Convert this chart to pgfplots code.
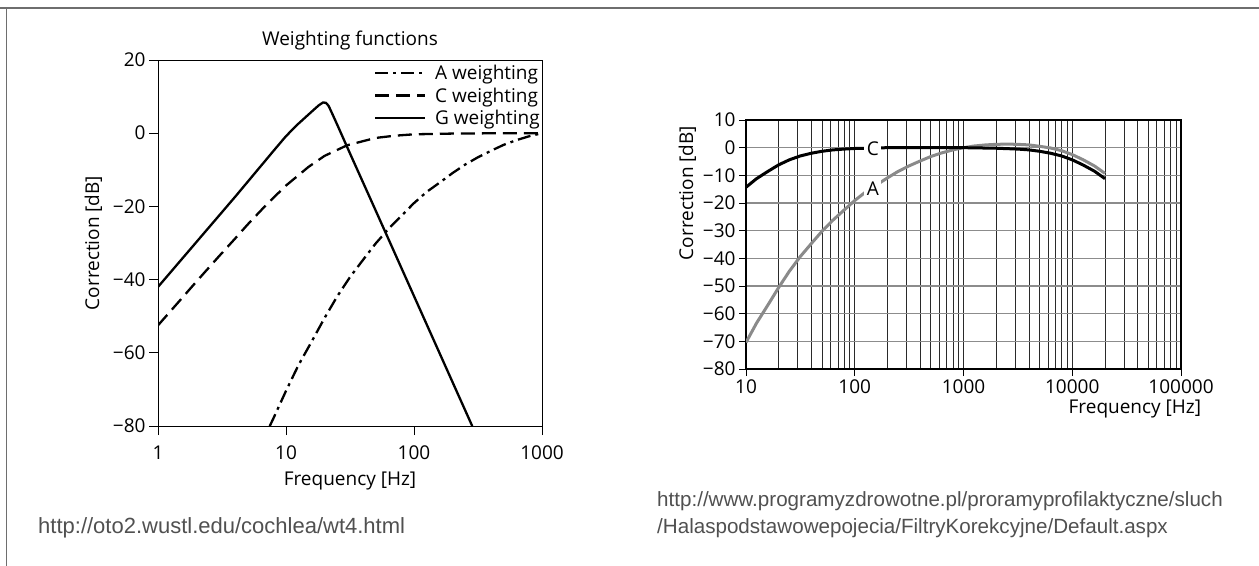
\documentclass[border=0pt]{standalone}
\usepackage{pgfplots}
\pgfplotsset{compat=1.18}
\usepackage{fontspec}
\setmainfont{Open Sans}
\newfontfamily\urlfont{Liberation Sans}
\definecolor{framegray}{HTML}{6E6E6E}
\definecolor{urlgray}{HTML}{505050}
\definecolor{agray}{HTML}{8A8A8A}
\definecolor{hgrid}{HTML}{8C8C8C}
\definecolor{vgrid}{HTML}{2A2A2A}
\newcommand{\cf}{\fontsize{19bp}{22bp}\selectfont}
\begin{document}
\begin{tikzpicture}
\useasboundingbox (0,0) rectangle (1259bp,-566bp);
\draw[framegray, line width=1.8bp] (0,-8bp) -- (1259bp,-8bp);
\draw[framegray, line width=1.6bp] (6.5bp,-8bp) -- (6.5bp,-566bp);

% ---------------- left chart ----------------
\begin{axis}[
  at={(158bp,-426bp)}, anchor=south west,
  scale only axis, width=384bp, height=366bp,
  xmode=log, xmin=1, xmax=1000, ymin=-80, ymax=20,
  xtick={1,10,100,1000}, xticklabels={1,10,100,1000}, xminorticks=false,
  ytick={-80,-60,-40,-20,0,20}, yticklabels={−80,−60,−40,−20,0,20},
  tick pos=left, tick align=outside, major tick length=9bp,
  axis line style={line width=1bp}, tick style={line width=1bp, black},
  every tick label/.append style={font=\cf},
  xticklabel style={yshift=-7bp},
  label style={font=\cf}, title style={font=\cf},
  title={Weighting functions},
  xlabel={Frequency [Hz]}, ylabel={Correction [dB]},
  xlabel style={yshift=-6bp},
  ylabel style={yshift=4bp},
  legend style={draw=none, fill=none, font=\cf, at={(1,1)}, anchor=north east,
    yshift=-3bp, inner sep=0pt, row sep=2.5bp, column sep=7bp,
    legend cell align=left},
  legend image code/.code={\draw[#1] (0bp,0bp) -- (50bp,0bp);},
]
\addplot[black, line width=2.3bp, dash pattern=on 13bp off 5bp on 3bp off 5bp] coordinates {
 (7.47,-80) (8,-77.8) (10,-70.4) (12.5,-63.4) (16,-56.7) (20,-50.5) (25,-44.7)
 (31.5,-39.4) (40,-34.6) (50,-30.2) (63,-26.2) (80,-22.5) (100,-19.1) (125,-16.1)
 (160,-13.4) (200,-10.9) (250,-8.6) (315,-6.6) (400,-4.8) (500,-3.2) (630,-1.9)
 (800,-0.8) (1000,0)};
\addlegendentry{A weighting}
\addplot[black, line width=2.3bp, dash pattern=on 14bp off 7bp] coordinates {
 (1,-52.5) (1.5,-45.5) (2,-40.5) (3,-33.6) (4,-28.8) (5,-25.0) (7,-19.6) (10,-14.3)
 (15,-9.2) (20,-6.2) (30,-3.3) (50,-1.3) (70,-0.7) (100,-0.3) (200,-0.1) (500,0) (1000,0)};
\addlegendentry{C weighting}
\addplot[black, line width=2.3bp] coordinates {
 (1,-42) (2,-29.7) (4,-17.4) (8,-4.8) (10,-0.8) (12.5,2.6) (16,6.0) (18,7.6)
 (19.5,8.4) (20.5,8.3) (21.5,7.5) (23,5.3) (25,2.5) (31.5,-5.4) (50,-21)
 (100,-44.5) (200,-68) (285,-80)};
\addlegendentry{G weighting}
\end{axis}

% ---------------- right chart ----------------
\begin{axis}[
  at={(746bp,-369bp)}, anchor=south west,
  scale only axis, width=435bp, height=249bp,
  xmode=log, xmin=10, xmax=100000, ymin=-80, ymax=10,
  xtick={10,100,1000,10000,100000}, xticklabels={10,100,1000,10000,100000},
  ytick={-80,-70,-60,-50,-40,-30,-20,-10,0,10},
  yticklabels={−80,−70,−60,−50,−40,−30,−20,−10,0,10},
  tick pos=left, tick align=outside, major tick length=7bp, minor tick length=0pt,
  xmajorgrids, xminorgrids, ymajorgrids,
  every axis grid/.style={},
  every major grid/.style={},
  every minor grid/.style={},
  every axis x grid/.style={vgrid, line width=0.8bp},
  every axis y grid/.style={hgrid, line width=1.4bp},
  axis line style={line width=1.2bp}, tick style={line width=1bp, black},
  every tick label/.append style={font=\cf},
  label style={font=\cf},
  xlabel={Frequency [Hz]}, ylabel={Correction [dB]},
  xlabel style={at={(ticklabel cs:0.894)}},
  ylabel style={at={(ticklabel cs:0.707)}},
]
\addplot[agray, line width=3bp] coordinates {
 (10,-70.4) (12.5,-63.4) (16,-56.7) (20,-50.5) (25,-44.7) (31.5,-39.4) (40,-34.6)
 (50,-30.2) (63,-26.2) (80,-22.5) (100,-19.1) (125,-16.1) (160,-13.4) (200,-10.9)
 (250,-8.6) (315,-6.6) (400,-4.8) (500,-3.2) (630,-1.9) (800,-0.8) (1000,0)
 (1250,0.6) (1600,1.0) (2000,1.2) (2500,1.3) (3150,1.2) (4000,1.0) (5000,0.5)
 (6300,-0.1) (8000,-1.1) (10000,-2.5) (12500,-4.3) (16000,-6.6) (20000,-9.3)};
\addplot[black, line width=3bp] coordinates {
 (10,-14.3) (12.5,-11.2) (16,-8.5) (20,-6.2) (25,-4.4) (31.5,-3.0) (40,-2.0)
 (50,-1.3) (63,-0.8) (80,-0.5) (100,-0.3) (125,-0.2) (160,-0.1) (200,0)
 (1000,0) (2000,-0.2) (3150,-0.5) (4000,-0.8) (5000,-1.3) (6300,-2.0)
 (8000,-3.0) (10000,-4.4) (12500,-6.2) (16000,-8.5) (20000,-11.2)};
\node[fill=white, inner sep=2.5bp, font=\cf] at (axis cs:147,-0.5) {C};
\node[fill=white, inner sep=2.5bp, font=\cf] at (axis cs:147,-15) {A};
\end{axis}

\node[anchor=base west, font=\urlfont\fontsize{22bp}{26bp}\selectfont, text=urlgray, inner sep=0pt] at (38bp,-533bp)
  {http://oto2.wustl.edu/cochlea/wt4.html};
\node[anchor=base west, font=\urlfont\fontsize{20.6bp}{26bp}\selectfont, text=urlgray, inner sep=0pt] at (657bp,-506bp)
  {http://www.programyzdrowotne.pl/proramyprofilaktyczne/sluch};
\node[anchor=base west, font=\urlfont\fontsize{20.6bp}{26bp}\selectfont, text=urlgray, inner sep=0pt] at (657bp,-533bp)
  {/Halaspodstawowepojecia/FiltryKorekcyjne/Default.aspx};
\end{tikzpicture}
\end{document}
